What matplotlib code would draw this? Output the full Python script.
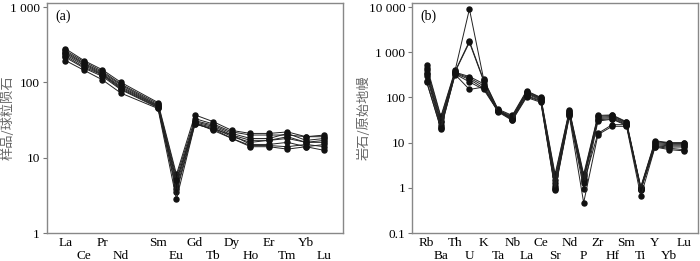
import matplotlib
matplotlib.use('Agg')
import matplotlib.pyplot as plt
from matplotlib.ticker import FixedLocator, FixedFormatter, FuncFormatter, NullLocator

# 稀土元素 (球粒陨石标准化)
ree = ['La', 'Ce', 'Pr', 'Nd', 'Sm', 'Eu', 'Gd', 'Tb', 'Dy', 'Ho', 'Er', 'Tm', 'Yb', 'Lu']
ree_pos = [0, 1, 2, 3, 5, 6, 7, 8, 9, 10, 11, 12, 13, 14]   # Pm 位置空缺
ree_samples = [
    [280, 195, 147, 100, 54, 6.0, 37, 30, 23, 21, 21, 22, 19, 20],
    [265, 188, 140, 95, 52, 5.5, 33, 28, 22, 20, 20, 20, 19, 19],
    [255, 180, 135, 92, 50, 4.8, 31, 27, 21, 18, 18, 21, 17, 18],
    [245, 175, 130, 88, 49, 4.3, 30, 26, 20, 17, 17, 19, 16, 16],
    [235, 168, 127, 85, 48, 3.8, 29, 25, 19, 16, 17, 18, 16, 17],
    [225, 160, 125, 82, 47, 3.5, 28, 24, 20, 15, 15, 16, 14, 15],
    [215, 155, 120, 80, 46, 5.0, 29, 23, 18, 14.5, 14.5, 14, 15, 14],
    [195, 145, 108, 72, 45, 2.8, 28, 24, 18, 14, 14, 13, 14, 12.5],
]

# 微量元素 (原始地幔标准化)
trace = ['Rb', 'Ba', 'Th', 'U', 'K', 'Ta', 'Nb', 'La', 'Ce', 'Sr',
         'Nd', 'P', 'Zr', 'Hf', 'Sm', 'Ti', 'Y', 'Yb', 'Lu']
trace_samples = [
    [510, 38, 400, 9000, 250, 55, 40, 140, 100, 2.0, 52, 2.0, 40, 41, 29, 1.05, 11, 10, 10],
    [450, 35, 380, 1750, 240, 53, 38, 135, 98, 1.8, 50, 1.8, 38, 40, 28, 1.0, 10.5, 9.8, 9.8],
    [400, 30, 370, 1650, 230, 52, 36, 130, 95, 1.5, 48, 1.6, 36, 38, 27, 0.95, 10, 9.5, 9.5],
    [350, 28, 360, 290, 200, 51, 35, 125, 92, 1.3, 46, 1.5, 34, 36, 26, 1.0, 9.5, 9, 9],
    [330, 25, 350, 270, 180, 50, 34, 120, 88, 1.1, 44, 1.4, 32, 34, 25, 0.9, 9, 8.5, 8.5],
    [300, 22, 340, 250, 160, 50, 33, 110, 85, 1.0, 42, 0.95, 30, 33, 24, 0.95, 8.5, 8, 8],
    [230, 20, 330, 220, 150, 49, 32, 105, 82, 0.95, 40, 1.3, 16, 25, 25, 0.9, 8.2, 7.5, 7],
    [220, 21, 320, 150, 170, 48, 31, 100, 78, 0.9, 38, 0.47, 15, 23, 23, 0.65, 8, 7, 6.6],
]

plt.rcParams['font.family'] = ['Liberation Serif', 'Noto Sans CJK SC']

fig = plt.figure(figsize=(7, 2.61), dpi=100)
ax1 = fig.add_axes([0.067, 0.107, 0.423, 0.8815])
ax2 = fig.add_axes([0.589, 0.107, 0.408, 0.8815])


def fmt(v, pos):
    if v >= 1:
        return f'{int(round(v)):,}'.replace(',', ' ')
    return f'{v:g}'


def style(ax, labels, pos, ylim, yticks, ylabel, tag, label_x):
    ax.set_yscale('log')
    ax.set_ylim(*ylim)
    ax.set_xlim(-1, max(pos) + 1)
    ax.yaxis.set_major_locator(FixedLocator(yticks))
    ax.yaxis.set_major_formatter(FuncFormatter(fmt))
    ax.yaxis.set_minor_locator(NullLocator())
    # 两行交错的横轴标签
    ax.xaxis.set_major_locator(FixedLocator(pos[0::2]))
    ax.xaxis.set_major_formatter(FixedFormatter(labels[0::2]))
    ax.xaxis.set_minor_locator(FixedLocator(pos[1::2]))
    ax.xaxis.set_minor_formatter(FixedFormatter(labels[1::2]))
    ax.tick_params(axis='x', which='major', length=0, pad=3, labelsize=9.5)
    ax.tick_params(axis='x', which='minor', length=0, pad=12, labelsize=9.5)
    ax.tick_params(axis='y', length=3, width=0.8, color='#777777', labelsize=9.5, pad=2)
    for sp in ax.spines.values():
        sp.set_color('#888888')
        sp.set_linewidth(1.0)
    ax.set_ylabel(ylabel, family='Noto Sans CJK SC', color='#666666', fontsize=9.5)
    ax.yaxis.set_label_coords(label_x, 0.5)
    ax.text(0.03, 0.97, tag, transform=ax.transAxes, ha='left', va='top', fontsize=10)


for s in ree_samples:
    ax1.plot(ree_pos, s, color='#222222', lw=0.7, marker='o', ms=3.6,
             mfc='#111111', mec='#111111')
style(ax1, ree, ree_pos, (1, 1130), [1, 10, 100, 1000], '样品/球粒陨石', '(a)', -0.11)

trace_pos = list(range(len(trace)))
for s in trace_samples:
    ax2.plot(trace_pos, s, color='#222222', lw=0.7, marker='o', ms=3.6,
             mfc='#111111', mec='#111111')
style(ax2, trace, trace_pos, (0.1, 12260), [0.1, 1, 10, 100, 1000, 10000],
      '岩石/原始地幔', '(b)', -0.145)

fig.savefig('out.png', dpi=100)
